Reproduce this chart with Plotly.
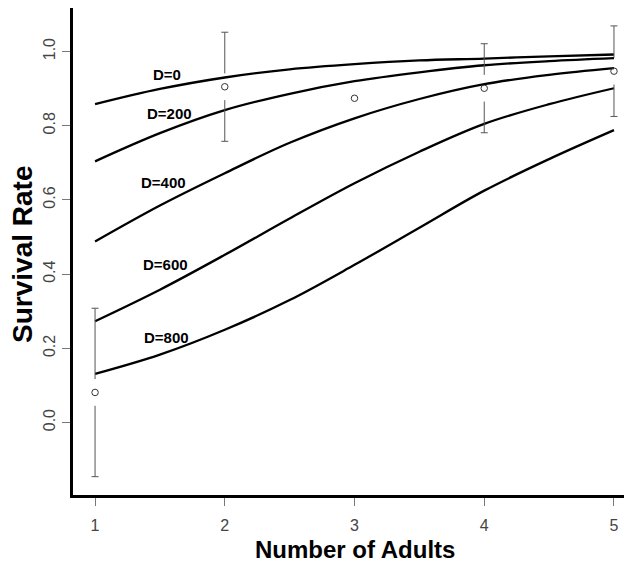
import plotly.graph_objects as go

# ---- data ----
x_grid = [1.0, 1.5, 2.0, 2.5, 3.0, 3.5, 4.0, 4.5, 5.0]
curve_labels = ["D=0", "D=200", "D=400", "D=600", "D=800"]
surv_d0 = [0.858, 0.899, 0.930, 0.952, 0.966, 0.976, 0.981, 0.987, 0.992]
surv_d200 = [0.704, 0.780, 0.842, 0.886, 0.920, 0.944, 0.963, 0.974, 0.982]
surv_d400 = [0.488, 0.585, 0.672, 0.754, 0.820, 0.872, 0.912, 0.937, 0.955]
surv_d600 = [0.273, 0.358, 0.452, 0.550, 0.645, 0.730, 0.805, 0.858, 0.901]
surv_d800 = [0.131, 0.183, 0.250, 0.330, 0.425, 0.525, 0.625, 0.710, 0.788]
curves = [surv_d0, surv_d200, surv_d400, surv_d600, surv_d800]

# label anchor positions (data units)
label_x = [1.555, 1.570, 1.524, 1.540, 1.547]
label_y = [0.937, 0.834, 0.646, 0.427, 0.230]

# observed means and standard errors
obs_x = [1, 2, 3, 4, 5]
obs_mean = [0.081, 0.905, 0.874, 0.901, 0.947]
obs_se = [0.227, 0.147, 0.02, 0.120, 0.122]

x_ticks = [1, 2, 3, 4, 5]
y_ticks = [0.0, 0.2, 0.4, 0.6, 0.8, 1.0]
y_tick_text = ["0.0", "0.2", "0.4", "0.6", "0.8", "1.0"]

# ---- style constants ----
GAP = 0.036        # gap around point (data units)
CAP = 0.027        # half-width of caps (x data units)
BAR_COLOR = "#555555"

fig = go.Figure()

for yv in curves:
    fig.add_trace(go.Scatter(x=x_grid, y=yv, mode="lines",
                             line=dict(color="black", width=2.3, shape="spline"),
                             hoverinfo="skip"))

# error bars with gaps around the points
ex, ey = [], []
for xi, m, s in zip(obs_x, obs_mean, obs_se):
    if s <= GAP:
        continue
    ex += [xi, xi, None, xi - CAP, xi + CAP, None]
    ey += [m + GAP, m + s, None, m + s, m + s, None]
    ex += [xi, xi, None, xi - CAP, xi + CAP, None]
    ey += [m - GAP, m - s, None, m - s, m - s, None]
fig.add_trace(go.Scatter(x=ex, y=ey, mode="lines",
                         line=dict(color=BAR_COLOR, width=1),
                         hoverinfo="skip", connectgaps=False, cliponaxis=False))

fig.add_trace(go.Scatter(x=obs_x, y=obs_mean, mode="markers",
                         marker=dict(symbol="circle-open", size=6.5,
                                     color="#333333", line=dict(width=1)),
                         cliponaxis=False))

for t, lx, ly in zip(curve_labels, label_x, label_y):
    fig.add_annotation(x=lx, y=ly, text="<b>" + t + "</b>", showarrow=False,
                       font=dict(family="Liberation Sans", size=15, color="black"),
                       xanchor="center", yanchor="middle")

# axis titles
fig.add_annotation(xref="paper", yref="paper", x=0.5045, y=0, yshift=-54,
                   text="<b>Number of Adults</b>", showarrow=False,
                   font=dict(family="Liberation Sans", size=24, color="black"),
                   xanchor="center", yanchor="middle")
fig.add_annotation(xref="paper", yref="paper", x=0, y=0.493, xshift=-50,
                   text="<b>Survival Rate</b>", showarrow=False, textangle=-90,
                   font=dict(family="Liberation Sans", size=28, color="black"),
                   xanchor="center", yanchor="middle")

fig.update_layout(
    width=624, height=555,
    margin=dict(l=65, r=0, t=0, b=68),
    plot_bgcolor="white", paper_bgcolor="white",
    showlegend=False,
    xaxis=dict(range=[0.830, 5.139], tickvals=x_ticks,
               ticks="outside", ticklen=8, tickwidth=1, tickcolor="#777777",
               showline=True, linecolor="black", linewidth=3,
               showgrid=False, zeroline=False, ticklabelstandoff=6,
               tickfont=dict(family="Liberation Sans", size=16, color="#444444")),
    yaxis=dict(range=[-0.1954, 1.1173], tickvals=y_ticks, ticktext=y_tick_text,
               ticks="outside", ticklen=8, tickwidth=1, tickcolor="#777777",
               showline=True, linecolor="black", linewidth=3,
               showgrid=False, zeroline=False, tickangle=-90, ticklabelstandoff=1,
               tickfont=dict(family="Liberation Sans", size=16, color="#444444")),
)

fig.write_html("out.html")
